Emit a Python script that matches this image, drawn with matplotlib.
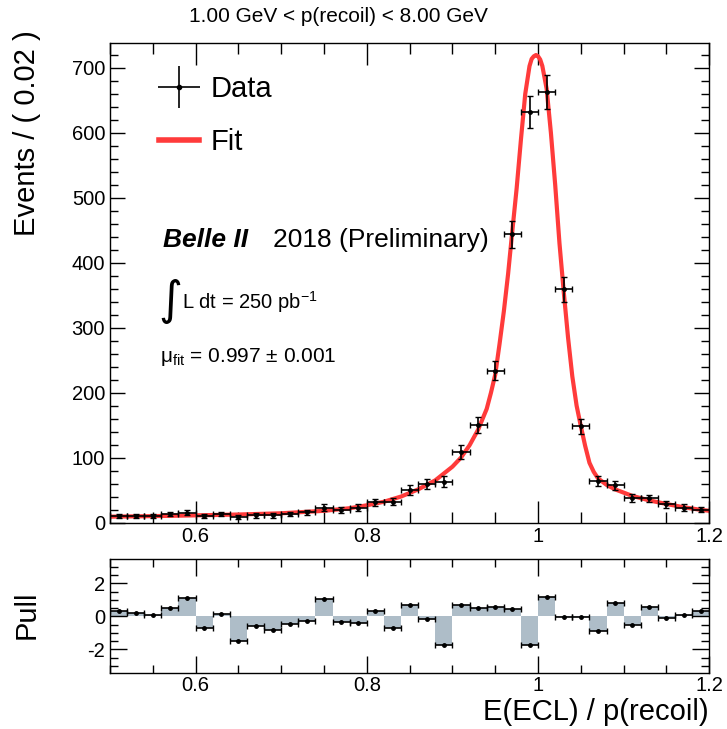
import numpy as np
import matplotlib
matplotlib.use("Agg")
import matplotlib.pyplot as plt
from matplotlib.lines import Line2D
from matplotlib.ticker import MultipleLocator, FormatStrFormatter

plt.rcParams["font.family"] = ["Liberation Sans", "DejaVu Sans"]
plt.rcParams["mathtext.fontset"] = "custom"
plt.rcParams["mathtext.rm"] = "Liberation Sans"
plt.rcParams["mathtext.it"] = "Liberation Sans:italic"
plt.rcParams["mathtext.bf"] = "Liberation Sans:bold"

# binned data, E(ECL)/p(recoil), bin width 0.02
bin_centers = [0.51, 0.53, 0.55, 0.57, 0.59, 0.61, 0.63, 0.65, 0.67, 0.69,
               0.71, 0.73, 0.75, 0.77, 0.79, 0.81, 0.83, 0.85, 0.87, 0.89,
               0.91, 0.93, 0.95, 0.97, 0.99, 1.01, 1.03, 1.05, 1.07, 1.09,
               1.11, 1.13, 1.15, 1.17, 1.19]
counts = [10, 10, 10, 13, 15, 10, 13, 8, 11, 11,
          13, 16, 23, 19, 23, 31, 32, 50, 59, 63,
          109, 150, 234, 444, 632, 663, 359, 148, 64, 57,
          38, 37, 28, 23, 20]
pulls = [0.32, 0.22, 0.08, 0.52, 1.12, -0.68, 0.12, -1.48, -0.58, -0.84,
         -0.48, -0.28, 1.02, -0.32, -0.42, 0.32, -0.72, 0.70, -0.18, -1.74,
         0.68, 0.52, 0.56, 0.46, -1.74, 1.18, -0.02, -0.04, -0.88, 0.82,
         -0.52, 0.56, -0.10, 0.06, 0.32]

# fit curve
fit_x = [0.50, 0.55, 0.60, 0.65, 0.70, 0.75, 0.78, 0.80, 0.82, 0.84,
         0.86, 0.88, 0.90, 0.91, 0.92, 0.93, 0.94, 0.945, 0.95, 0.955,
         0.96, 0.965, 0.97, 0.975, 0.98, 0.985, 0.99, 0.9925, 0.995, 0.9976,
         1.00, 1.0025, 1.005, 1.01, 1.015, 1.02, 1.025, 1.03, 1.035, 1.04,
         1.045, 1.05, 1.055, 1.06, 1.065, 1.07, 1.08, 1.09, 1.10, 1.11,
         1.13, 1.15, 1.17, 1.19, 1.20]
fit_y = [9, 9.8, 11, 12.3, 14.2, 18, 22, 26.5, 32, 40,
         51, 65, 86, 100, 119, 143, 175, 200, 228, 275,
         325, 383, 450, 515, 590, 660, 703, 714, 718, 720,
         718, 713, 703, 668, 600, 520, 430, 355, 285, 225,
         180, 148, 118, 92, 78, 68, 58, 51, 46, 41,
         34, 28.5, 23.5, 19.5, 18]

W, H = 727, 729
fig = plt.figure(figsize=(W / 100, H / 100), dpi=100)

def px(x0, y0, x1, y1):
    return [x0 / W, 1 - y1 / H, (x1 - x0) / W, (y1 - y0) / H]

ax = fig.add_axes(px(110, 43, 709.3, 522.5))
axp = fig.add_axes(px(110, 559.3, 709.3, 673.3))

x = np.array(bin_centers)
n = np.array(counts, dtype=float)

ax.plot(fit_x, fit_y, color="#ff3b3b", lw=3.0, zorder=2, solid_capstyle="round")
ax.errorbar(x, n, xerr=0.01, yerr=np.sqrt(n), fmt="o", ms=2.5, color="black",
            ecolor="black", elinewidth=1.2, capsize=2, capthick=1.0, zorder=3)

ax.set_xlim(0.5, 1.2)
ax.set_ylim(0, 738.5)
axp.set_xlim(0.5, 1.2)
axp.set_ylim(-3.45, 3.45)

axp.bar(x, pulls, width=0.02, color="#aebdc8", edgecolor="none", zorder=1)
axp.errorbar(x, pulls, xerr=0.01, fmt="o", ms=2.5, color="black", ecolor="black",
             elinewidth=1.2, capsize=2, capthick=1.0, zorder=3)

for a in (ax, axp):
    a.xaxis.set_major_locator(MultipleLocator(0.2))
    a.xaxis.set_minor_locator(MultipleLocator(0.05))
    a.xaxis.set_major_formatter(FormatStrFormatter("%g"))
    a.tick_params(which="both", direction="in", top=True, right=True,
                  labelsize=14.5, width=1.0)
    for s in a.spines.values():
        s.set_linewidth(1.0)

ax.yaxis.set_major_locator(MultipleLocator(100))
ax.yaxis.set_minor_locator(MultipleLocator(20))
ax.tick_params(which="major", length=11)
ax.tick_params(which="minor", length=6)
ax.tick_params(axis="x", which="major", length=16, pad=3)
ax.tick_params(axis="x", which="minor", length=8)

axp.yaxis.set_major_locator(MultipleLocator(2))
axp.yaxis.set_minor_locator(MultipleLocator(0.5))
axp.yaxis.set_major_formatter(FormatStrFormatter("%g"))
axp.tick_params(which="major", length=12)
axp.tick_params(which="minor", length=6)
axp.tick_params(axis="x", which="major", length=12, pad=2)
axp.tick_params(axis="x", which="minor", length=6)

# axis titles
fig.text(27 / W, 1 - 30 / H, "Events / ( 0.02 )", rotation=90, ha="center",
         va="top", fontsize=21)
fig.text(27 / W, 1 - 615 / H, "Pull", rotation=90, ha="center", va="center",
         fontsize=21)
fig.text(709 / W, 1 - 712 / H, "E(ECL) / p(recoil)", ha="right", va="center",
         fontsize=21)
fig.text(338 / W, 1 - 17 / H, "1.00 GeV < p(recoil) < 8.00 GeV", ha="center",
         va="center", fontsize=15)

# legend: big cross with a dot for the data, thick red line for the fit
data_cross = Line2D([], [], ls="none", marker="+", ms=30, mew=1.2, color="black")
data_dot = Line2D([], [], ls="none", marker="o", ms=3, color="black")
fit_line = Line2D([], [], color="#ff3b3b", lw=4)
ax.legend([(data_cross, data_dot), fit_line], ["Data", "Fit"],
          loc="upper left", bbox_to_anchor=(0.048, 0.975), frameon=False,
          fontsize=21, handlelength=1.35, labelspacing=0.85,
          handletextpad=0.4, borderpad=0.2)

# annotations
fig.text(163 / W, 1 - 240 / H, "Belle II", fontsize=19, fontweight="bold",
         fontstyle="italic", va="center")
fig.text(273 / W, 1 - 240 / H, "2018 (Preliminary)", fontsize=19, va="center")
fig.text(158 / W, 1 - 302 / H, "\u222b", fontsize=33, va="center",
         family=["DejaVu Sans"])
fig.text(182 / W, 1 - 302 / H, r"L dt = 250 pb$^{\mathregular{-1}}$", fontsize=14.5,
         va="center")
fig.text(160 / W, 1 - 357 / H, r"$\mathregular{\mu_{fit}}$ = 0.997 $\pm$ 0.001",
         fontsize=15, va="center")

fig.savefig("out.png", dpi=100)
